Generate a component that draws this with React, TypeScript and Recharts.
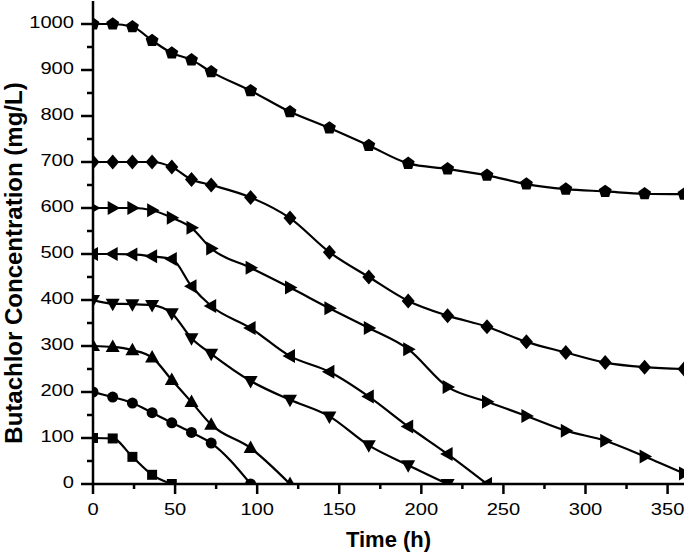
import React from 'react';
import { LineChart, Line, XAxis, YAxis } from 'recharts';

// sampling times (h)
const times = [0, 12, 24, 36, 48, 60, 72, 96, 120, 144, 168, 192, 216, 240, 264, 288, 312, 336, 360];

// butachlor concentration (mg/L) per initial dose
const c100 = [100, 99, 59, 20, 0];
const c200 = [200, 189, 176, 155, 133, 112, 89, 0];
const c300 = [300, 298, 291, 275, 226, 178, 129, 78, 0];
const c400 = [400, 392, 391, 389, 371, 317, 283, 224, 183, 147, 84, 41, 0];
const c500 = [500, 500, 499, 495, 489, 430, 387, 339, 278, 244, 190, 125, 65, 0];
const c600 = [600, 600, 600, 595, 579, 557, 512, 470, 427, 382, 339, 293, 211, 179, 148, 116, 94, 60, 23];
const c700 = [700, 700, 700, 700, 689, 662, 650, 623, 578, 504, 450, 398, 366, 342, 309, 286, 264, 254, 250];
const c1000 = [1000, 1000, 994, 964, 937, 922, 896, 855, 809, 774, 736, 697, 685, 671, 652, 641, 636, 631, 630];

const xTicks = [0, 25, 50, 75, 100, 125, 150, 175, 200, 225, 250, 275, 300, 325, 350];
const yTicks = [0, 50, 100, 150, 200, 250, 300, 350, 400, 450, 500, 550, 600, 650, 700, 750, 800, 850, 900, 950, 1000];

const series = [
  { name: 'c100', values: c100, shape: 'square' },
  { name: 'c200', values: c200, shape: 'circle' },
  { name: 'c300', values: c300, shape: 'up' },
  { name: 'c400', values: c400, shape: 'down' },
  { name: 'c500', values: c500, shape: 'left' },
  { name: 'c600', values: c600, shape: 'right' },
  { name: 'c700', values: c700, shape: 'diamond' },
  { name: 'c1000', values: c1000, shape: 'pentagon' },
];

const toRows = (values: number[]) => values.map((v, i) => ({ t: times[i], v }));

const FONT = '"Liberation Sans", Arial, sans-serif';

const pts = (arr: number[][]) => arr.map((p) => p.join(',')).join(' ');

const Marker = ({ cx, cy, shape }: { cx: number; cy: number; shape: string }) => {
  if (cx == null || cy == null) return null;
  switch (shape) {
    case 'square':
      return <rect x={cx - 5} y={cy - 5} width={10} height={10} fill="#000" />;
    case 'circle':
      return <circle cx={cx} cy={cy} r={5.5} fill="#000" />;
    case 'up':
      return <polygon points={pts([[cx, cy - 7.5], [cx + 7, cy + 5], [cx - 7, cy + 5]])} fill="#000" />;
    case 'down':
      return <polygon points={pts([[cx, cy + 7.5], [cx + 7, cy - 5], [cx - 7, cy - 5]])} fill="#000" />;
    case 'left':
      return <polygon points={pts([[cx - 7.5, cy], [cx + 5, cy - 7], [cx + 5, cy + 7]])} fill="#000" />;
    case 'right':
      return <polygon points={pts([[cx + 7.5, cy], [cx - 5, cy - 7], [cx - 5, cy + 7]])} fill="#000" />;
    case 'diamond':
      return <polygon points={pts([[cx, cy - 7.5], [cx + 6.5, cy], [cx, cy + 7.5], [cx - 6.5, cy]])} fill="#000" />;
    default: {
      const p = [0, 1, 2, 3, 4].map((k) => {
        const a = -Math.PI / 2 + (k * 2 * Math.PI) / 5;
        return [cx + 6.8 * Math.cos(a), cy + 6.8 * Math.sin(a)];
      });
      return <polygon points={pts(p)} fill="#000" />;
    }
  }
};

const BottomTick = ({ x, y, payload }: any) => {
  const major = payload.value % 50 === 0;
  return (
    <g>
      <line x1={x} x2={x} y1={y} y2={y + (major ? 10 : 5)} stroke="#000" strokeWidth={2.5} />
      {major && (
        <text transform={`translate(${x},${y + 31}) scale(1.22,1)`} textAnchor="middle" fontSize={16.5} fontFamily={FONT} fill="#000">
          {payload.value}
        </text>
      )}
    </g>
  );
};

const LeftTick = ({ x, y, payload }: any) => {
  const major = payload.value % 100 === 0;
  return (
    <g>
      <line x1={x - (major ? 12 : 6)} x2={x} y1={y} y2={y} stroke="#000" strokeWidth={2.5} />
      {major && (
        <text transform={`translate(${x - 19},${y + 4}) scale(1.22,1)`} textAnchor="end" fontSize={16.5} fontFamily={FONT} fill="#000">
          {payload.value}
        </text>
      )}
    </g>
  );
};

const TopTick = ({ x, y, payload }: any) => {
  const major = payload.value % 50 === 0;
  return <line x1={x} x2={x} y1={y} y2={y + (major ? 11 : 6)} stroke="#000" strokeWidth={2.5} />;
};

const RightTick = ({ x, y, payload }: any) => {
  const major = payload.value % 100 === 0;
  return <line x1={x - (major ? 10 : 5)} x2={x} y1={y} y2={y} stroke="#000" strokeWidth={2.5} />;
};

const XTitle = ({ viewBox }: any) => (
  <text x={viewBox.x + viewBox.width / 2} y={viewBox.y + 63} textAnchor="middle" fontSize={22} fontWeight="bold" fontFamily={FONT} fill="#000">
    Time (h)
  </text>
);

const YTitle = () => (
  <text transform="translate(22,263) rotate(-90)" textAnchor="middle" fontSize={24} fontWeight="bold" fontFamily={FONT} fill="#000">
    Butachlor Concentration (mg/L)
  </text>
);

const axisLine = { stroke: '#000', strokeWidth: 2.5 };

export default function App() {
  return (
    <div style={{ position: 'absolute', left: 0, top: 0, background: '#fff' }}>
      <LineChart width={685} height={554} margin={{ top: 1, right: 1, left: 0, bottom: 0 }}>
        <XAxis
          dataKey="t"
          type="number"
          domain={[0, 360]}
          ticks={xTicks}
          interval={0}
          allowDataOverflow
          height={70}
          tickSize={0}
          tickMargin={0}
          tickLine={false}
          axisLine={axisLine}
          tick={<BottomTick />}
          label={{ value: 'Time (h)', content: (p: any) => <XTitle {...p} /> }}
        />
        <XAxis
          xAxisId="top"
          orientation="top"
          dataKey="t"
          type="number"
          domain={[0, 360]}
          ticks={xTicks}
          interval={0}
          height={0}
          tickSize={0}
          tickMargin={0}
          tickLine={false}
          axisLine={axisLine}
          tick={<TopTick />}
        />
        <YAxis
          type="number"
          domain={[0, 1050]}
          ticks={yTicks}
          interval={0}
          allowDataOverflow
          width={93}
          tickSize={0}
          tickMargin={0}
          tickLine={false}
          axisLine={axisLine}
          tick={<LeftTick />}
          label={{ value: 'Butachlor Concentration (mg/L)', content: () => <YTitle /> }}
        />
        <YAxis
          yAxisId="right"
          orientation="right"
          type="number"
          domain={[0, 1050]}
          ticks={yTicks}
          interval={0}
          width={0}
          tickSize={0}
          tickMargin={0}
          tickLine={false}
          axisLine={axisLine}
          tick={<RightTick />}
        />
        {series.map((s) => (
          <Line
            key={s.name}
            data={toRows(s.values)}
            dataKey="v"
            type="monotone"
            stroke="#000"
            strokeWidth={2.2}
            isAnimationActive={false}
            activeDot={false}
            dot={(p: any) => <Marker key={`${s.name}-${p.index}`} cx={p.cx} cy={p.cy} shape={s.shape} />}
          />
        ))}
      </LineChart>
    </div>
  );
}
